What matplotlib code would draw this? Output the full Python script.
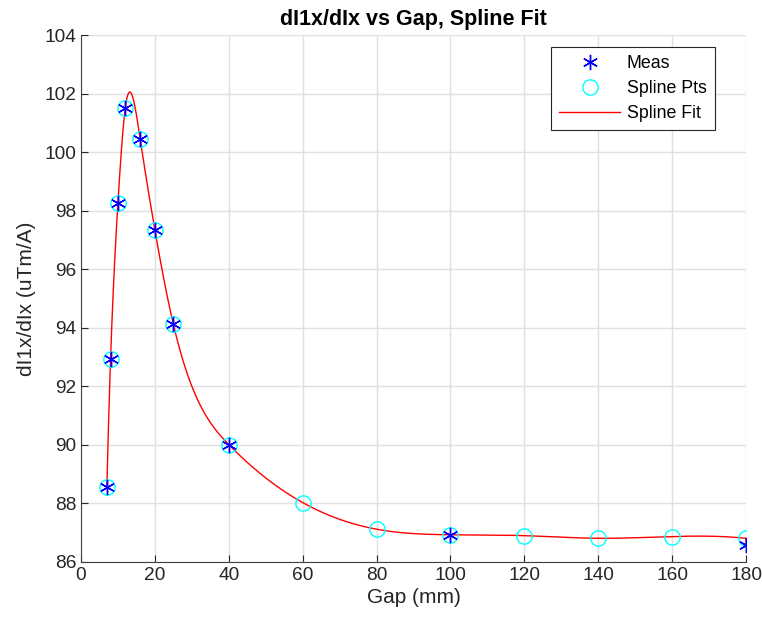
import numpy as np
import matplotlib.pyplot as plt

plt.rcParams['font.family'] = ['Liberation Sans', 'DejaVu Sans']

# measured points
meas_gap = [7, 8, 10, 12, 16, 20, 25, 40, 100, 180]
meas_val = [88.55, 92.93, 98.27, 101.52, 100.46, 97.34, 94.12, 90.01, 86.93, 86.57]

# spline knots
spl_gap = [7, 8, 10, 12, 16, 20, 25, 40, 60, 80, 100, 120, 140, 160, 180]
spl_val = [88.55, 92.93, 98.27, 101.52, 100.46, 97.34, 94.12, 90.01,
           88.03, 87.12, 86.93, 86.90, 86.81, 86.87, 86.81]


def spline_curve(xk, yk, xs):
    # cubic spline, not-a-knot ends
    xk = np.asarray(xk, float)
    yk = np.asarray(yk, float)
    n = len(xk)
    h = np.diff(xk)
    A = np.zeros((n, n))
    b = np.zeros(n)
    for i in range(1, n - 1):
        A[i, i - 1] = h[i - 1]
        A[i, i] = 2 * (h[i - 1] + h[i])
        A[i, i + 1] = h[i]
        b[i] = 6 * ((yk[i + 1] - yk[i]) / h[i] - (yk[i] - yk[i - 1]) / h[i - 1])
    A[0, 0], A[0, 1], A[0, 2] = -1 / h[0], 1 / h[0] + 1 / h[1], -1 / h[1]
    A[-1, -3], A[-1, -2], A[-1, -1] = -1 / h[-2], 1 / h[-2] + 1 / h[-1], -1 / h[-1]
    M = np.linalg.solve(A, b)
    idx = np.clip(np.searchsorted(xk, xs) - 1, 0, n - 2)
    x0, x1 = xk[idx], xk[idx + 1]
    hh = x1 - x0
    t0, t1 = x1 - xs, xs - x0
    return (M[idx] * t0 ** 3 / (6 * hh) + M[idx + 1] * t1 ** 3 / (6 * hh)
            + (yk[idx] / hh - M[idx] * hh / 6) * t0
            + (yk[idx + 1] / hh - M[idx + 1] * hh / 6) * t1)


xs = np.linspace(spl_gap[0], spl_gap[-1], 2000)
ys = spline_curve(spl_gap, spl_val, xs)
xs = np.append(xs, meas_gap[-1])
ys = np.append(ys, meas_val[-1])

fig = plt.figure(figsize=(7.62, 6.28), dpi=100)
ax = fig.add_axes([81 / 762, 1 - 562 / 628, (746 - 81) / 762, (562 - 35) / 628])

asterisk = (6, 2, 0)
ax.plot(meas_gap, meas_val, marker=asterisk, color='blue', markersize=11,
        markeredgewidth=1.0, linestyle='none', label='Meas', zorder=4)
ax.plot(spl_gap, spl_val, 'o', color='cyan', markerfacecolor='none', markersize=11,
        markeredgewidth=1.0, linestyle='none', label='Spline Pts', zorder=3)
ax.plot(xs, ys, '-', color='red', linewidth=1.0, label='Spline Fit', zorder=2)

ax.set_xlim(0, 180)
ax.set_ylim(86, 104)
ax.set_xticks(np.arange(0, 181, 20))
ax.set_yticks(np.arange(86, 105, 2))
ax.grid(True, color='#e0e0e0', linewidth=1.0)
ax.set_axisbelow(True)
for s in ['top', 'right']:
    ax.spines[s].set_visible(False)
for s in ['left', 'bottom']:
    ax.spines[s].set_color('#404040')
ax.tick_params(direction='in', length=5, labelsize=13.8, colors='#262626')

ax.set_xlabel('Gap (mm)', fontsize=15, color='#262626', labelpad=3)
ax.set_ylabel('dI1x/dIx (uTm/A)', fontsize=15, color='#262626', labelpad=6)
ax.set_title('dI1x/dIx vs Gap, Spline Fit', fontsize=15.5, fontweight='bold', pad=7)

leg = ax.legend(loc='upper right', bbox_to_anchor=(0.953, 0.977), fontsize=12.8,
                fancybox=False, framealpha=1, edgecolor='#262626',
                handlelength=3.4, handletextpad=0.4, borderpad=0.45,
                labelspacing=0.45, borderaxespad=0)
leg.get_frame().set_linewidth(0.8)

fig.savefig('out.png', dpi=100)
